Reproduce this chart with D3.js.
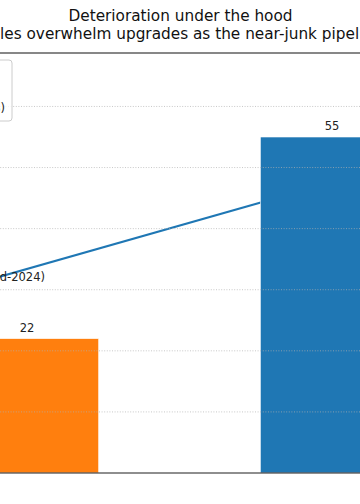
<!DOCTYPE html>
<html>
<head>
<meta charset="utf-8">
<script src="https://cdn.jsdelivr.net/npm/d3@7"></script>
<style>
  body { margin: 0; background: #fff; }
  svg { display: block; font-family: "DejaVu Sans", sans-serif; }
</style>
</head>
<body>
<div id="container"></div>
<script>
var W = 360, H = 504;

// data
var categories = ["Upgrades", "Downgrades"],
    counts = [22, 55],
    barColors = ["#ff7f0e", "#1f77b4"],
    pipePos = [-0.5, 1],          // position in category units
    pipeVals = [26.3, 47.6],
    pipeLabels = ["end-2024", "latest"],
    legendLabels = ["Rating actions, trailing 12 months (count)", "Near-junk pipeline, BBB- on negative outlook (%)"],
    gridTicks = [10, 20, 30, 40, 50, 60];

var svg = d3.select('#container').append('svg')
    .attr('width', W)
    .attr('height', H);

/* scales */
var xPos = d3.scaleLinear().domain([0, 1]).range([27, 332]);
var barW = xPos(0.47) - xPos(0);
var yScale = d3.scaleLinear().domain([0, 55 * 1.25]).range([473, 53]);

/* pipeline line (drawn under the bars) */
var pipe = pipePos.map((p, i) => ({p: p, v: pipeVals[i], t: pipeLabels[i]}));
var line = d3.line().x(d => xPos(d.p)).y(d => yScale(d.v));
svg.append('path')
    .datum(pipe)
    .attr('d', line)
    .attr('fill', 'none')
    .attr('stroke', '#1f77b4')
    .attr('stroke-width', 2);

/* bars */
svg.append('g').selectAll('rect').data(counts).enter().append('rect')
    .attr('x', (d, i) => xPos(i) - barW / 2)
    .attr('y', d => yScale(d))
    .attr('width', barW)
    .attr('height', d => yScale(0) - yScale(d))
    .attr('fill', (d, i) => barColors[i])
    .attr('stroke', '#fff')
    .attr('stroke-width', 0.6);

/* grid on top, faint dotted */
svg.append('g').selectAll('line').data(gridTicks).enter().append('line')
    .attr('x1', -200).attr('x2', W + 200)
    .attr('y1', d => yScale(d)).attr('y2', d => yScale(d))
    .attr('stroke', '#b0b0b0')
    .attr('stroke-opacity', 0.7)
    .attr('stroke-width', 1)
    .attr('stroke-dasharray', '1,1.6');

/* spines */
svg.append('line').attr('x1', 0).attr('x2', W)
    .attr('y1', yScale.range()[1]).attr('y2', yScale.range()[1])
    .attr('stroke', '#111').attr('stroke-width', 1.2);
svg.append('line').attr('x1', 0).attr('x2', W)
    .attr('y1', yScale(0)).attr('y2', yScale(0))
    .attr('stroke', '#444').attr('stroke-opacity', 0.8).attr('stroke-width', 1.5);

/* value labels */
svg.append('g').selectAll('text').data(counts).enter().append('text')
    .attr('x', (d, i) => xPos(i))
    .attr('y', d => yScale(d) - 7)
    .attr('text-anchor', 'middle')
    .attr('font-size', 11.5)
    .attr('fill', '#222')
    .text(d => d);

/* line annotation */
svg.append('text')
    .attr('x', xPos(0) + 18)
    .attr('y', yScale(pipe[0].v) - 31)
    .attr('text-anchor', 'end')
    .attr('font-size', 11.5)
    .attr('fill', '#222')
    .text('Near-junk pipeline (' + pipe[0].t + ')');

/* legend (mostly off the left edge) */
var leg = svg.append('g');
var legText = leg.selectAll('text').data(legendLabels).enter().append('text')
    .attr('y', (d, i) => 88 + i * 24)
    .attr('font-size', 11.5)
    .attr('fill', '#222')
    .text(d => d);
var w2 = legText.nodes()[1].getComputedTextLength();
var tx = 5 - w2;
legText.attr('x', tx);
leg.insert('rect', 'text')
    .attr('x', tx - 40).attr('y', 60)
    .attr('width', 12 - (tx - 40)).attr('height', 61)
    .attr('rx', 3)
    .attr('fill', '#fff').attr('fill-opacity', 0.8)
    .attr('stroke', '#ccc');

/* titles */
svg.append('text')
    .attr('x', 180.5).attr('y', 21)
    .attr('text-anchor', 'middle')
    .attr('font-size', 15.3)
    .attr('fill', '#111')
    .text('Deterioration under the hood');

var sub = svg.append('text')
    .attr('y', 39)
    .attr('font-size', 15.3)
    .attr('fill', '#111');
sub.text('Downgrade cyc');
var pre = sub.node().getComputedTextLength();
sub.attr('x', -pre)
    .text('Downgrade cycles overwhelm upgrades as the near-junk pipeline swells');
</script>
</body>
</html>
